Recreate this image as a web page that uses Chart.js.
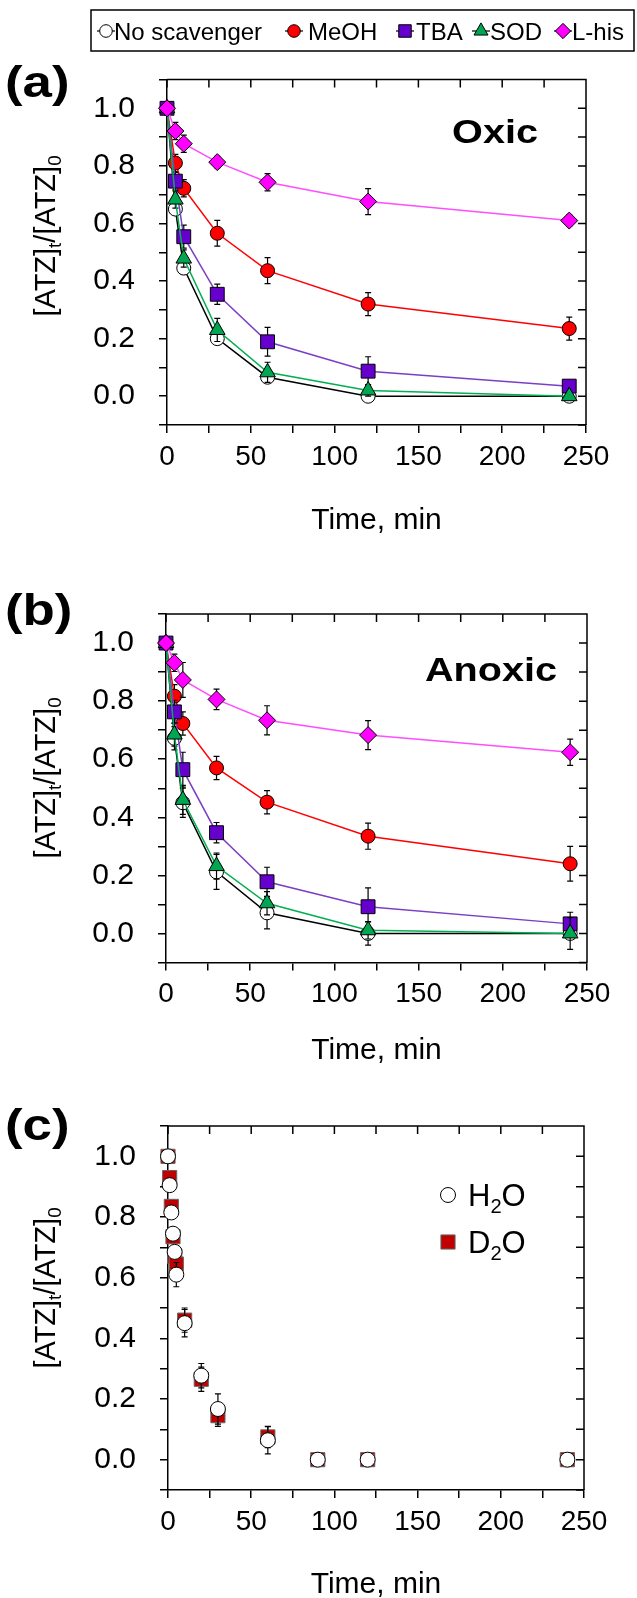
<!DOCTYPE html>
<html>
<head>
<meta charset="utf-8">
<title>ATZ decay with scavengers</title>
<script src="https://cdn.jsdelivr.net/npm/chart.js@4.4.1/dist/chart.umd.min.js"></script>
<style>
  html, body { margin: 0; padding: 0; background: #fff; }
  body { width: 637px; height: 1598px; position: relative; overflow: hidden; }
  canvas { position: absolute; left: 0; }
</style>
</head>
<body>
<canvas id="chartA" width="637" height="540" style="top:0px"></canvas>
<canvas id="chartB" width="637" height="525" style="top:540px"></canvas>
<canvas id="chartC" width="637" height="533" style="top:1065px"></canvas>
<script>
const FONT = "'Liberation Sans', Arial, sans-serif";

// sampling times (min) for panels a and b
const times = [0, 5, 10, 30, 60, 120, 240];

// (a) oxic
const oxicNone = [1.0, 0.65, 0.445, 0.2, 0.066, 0.0, 0.0];
const oxicMeOH = [1.0, 0.81, 0.722, 0.566, 0.436, 0.32, 0.235];
const oxicTBA = [1.0, 0.747, 0.554, 0.354, 0.189, 0.087, 0.035];
const oxicSOD = [1.0, 0.683, 0.478, 0.23, 0.083, 0.02, 0.0];
const oxicLhis = [1.0, 0.921, 0.877, 0.813, 0.743, 0.676, 0.61];
const oxicNoneErr = [0.01, 0.02, 0.02, 0.015, 0.015, 0.01, 0.01];
const oxicMeOHErr = [0.01, 0.03, 0.03, 0.045, 0.045, 0.04, 0.04];
const oxicTBAErr = [0.01, 0.03, 0.04, 0.035, 0.05, 0.05, 0.015];
const oxicSODErr = [0.01, 0.03, 0.03, 0.04, 0.035, 0.02, 0.01];
const oxicLhisErr = [0.02, 0.03, 0.03, 0.02, 0.03, 0.045, 0.02];

// (b) anoxic
const anoxNone = [1.0, 0.672, 0.45, 0.212, 0.071, 0.0, 0.0];
const anoxMeOH = [1.0, 0.817, 0.723, 0.57, 0.452, 0.335, 0.24];
const anoxTBA = [1.0, 0.763, 0.564, 0.347, 0.178, 0.092, 0.033];
const anoxSOD = [1.0, 0.685, 0.46, 0.232, 0.104, 0.011, 0.0];
const anoxLhis = [1.0, 0.932, 0.873, 0.806, 0.734, 0.683, 0.624];
const anoxNoneErr = [0.02, 0.04, 0.05, 0.06, 0.055, 0.04, 0.02];
const anoxMeOHErr = [0.02, 0.04, 0.04, 0.04, 0.04, 0.045, 0.06];
const anoxTBAErr = [0.02, 0.04, 0.06, 0.035, 0.05, 0.065, 0.04];
const anoxSODErr = [0.02, 0.04, 0.05, 0.045, 0.04, 0.03, 0.055];
const anoxLhisErr = [0.02, 0.03, 0.06, 0.035, 0.05, 0.05, 0.045];

// (c) solvent isotope effect
const timesC = [0, 1, 2, 3, 4, 5, 10, 20, 30, 60, 90, 120, 240];
const h2o = [1.0, 0.905, 0.815, 0.745, 0.685, 0.61, 0.45, 0.277, 0.167, 0.064, 0.0, 0.0, 0.0];
const d2o = [1.0, 0.93, 0.835, 0.735, 0.67, 0.645, 0.46, 0.265, 0.145, 0.075, 0.0, 0.0, 0.0];
const h2oErr = [0.01, 0.02, 0.02, 0.02, 0.02, 0.04, 0.045, 0.04, 0.05, 0.045, 0.01, 0.01, 0.01];
const d2oErr = [0.01, 0.02, 0.02, 0.02, 0.02, 0.02, 0.04, 0.04, 0.035, 0.035, 0.01, 0.01, 0.01];

const xTicks = [0, 50, 100, 150, 200, 250];
const yTicks = [0.0, 0.2, 0.4, 0.6, 0.8, 1.0];

const seriesLabels = ["No scavenger", "MeOH", "TBA", "SOD", "L-his"];
const seriesStyle = [
  { line: "#000000", fill: "#ffffff", shape: "circle", r: 7 },
  { line: "#ff0000", fill: "#ff0000", shape: "circle", r: 7 },
  { line: "#7b3fc4", fill: "#6600cc", shape: "rect", r: 9.8 },
  { line: "#00b050", fill: "#00a651", shape: "triangle", r: 9 },
  { line: "#ff4dff", fill: "#ff00ff", shape: "rectRot", r: 8.5 },
];

Chart.defaults.color = "#000";
Chart.defaults.font.family = FONT;

const TICK = 8;

function pairs(xs, ys) {
  return xs.map((x, i) => ({ x: x, y: ys[i] }));
}

function kineticSets(values, errors) {
  // first series sits at the back, L-his on top
  return values.map((v, i) => ({
    label: seriesLabels[i],
    data: pairs(times, v),
    errors: errors[i],
    borderColor: seriesStyle[i].line,
    borderWidth: 1.5,
    backgroundColor: seriesStyle[i].fill,
    pointStyle: seriesStyle[i].shape,
    pointRadius: seriesStyle[i].r,
    pointBackgroundColor: seriesStyle[i].fill,
    pointBorderColor: "#000",
    pointBorderWidth: 1,
    showLine: true,
    tension: 0,
    clip: false,
    order: values.length - i,
  }));
}

// draws vertical error bars just before each dataset's own marks
const errorBars = {
  id: "errorBars",
  beforeDatasetDraw(chart, args) {
    const ds = chart.data.datasets[args.index];
    if (!ds.errors) return;
    const ctx = chart.ctx;
    const y = chart.scales.y;
    ctx.save();
    ctx.strokeStyle = "#000";
    ctx.lineWidth = 1.2;
    args.meta.data.forEach((pt, i) => {
      const e = ds.errors[i];
      if (!e) return;
      const v = ds.data[i].y;
      const top = y.getPixelForValue(v + e);
      const bot = y.getPixelForValue(v - e);
      ctx.beginPath();
      ctx.moveTo(pt.x, top);
      ctx.lineTo(pt.x, bot);
      ctx.moveTo(pt.x - 3, top);
      ctx.lineTo(pt.x + 3, top);
      ctx.moveTo(pt.x - 3, bot);
      ctx.lineTo(pt.x + 3, bot);
      ctx.stroke();
    });
    ctx.restore();
  },
};

// closes the box: top and right edges with inward ticks
const frame = {
  id: "frame",
  beforeDatasetsDraw(chart) {
    const { ctx, chartArea: a } = chart;
    const x = chart.scales.x;
    const y = chart.scales.y;
    ctx.save();
    ctx.strokeStyle = "#000";
    ctx.lineWidth = 1.5;
    ctx.beginPath();
    ctx.moveTo(a.left, a.top);
    ctx.lineTo(a.right, a.top);
    ctx.lineTo(a.right, a.bottom);
    x.ticks.forEach((t) => {
      const px = x.getPixelForValue(t.value);
      ctx.moveTo(px, a.top);
      ctx.lineTo(px, a.top + TICK);
    });
    y.ticks.forEach((t) => {
      const py = y.getPixelForValue(t.value);
      ctx.moveTo(a.right, py);
      ctx.lineTo(a.right - TICK, py);
    });
    ctx.stroke();
    ctx.restore();
  },
};

function drawMarker(ctx, shape, cx, cy, r) {
  ctx.beginPath();
  if (shape === "circle") {
    ctx.arc(cx, cy, r, 0, Math.PI * 2);
  } else if (shape === "rect") {
    const s = r * Math.SQRT1_2;
    ctx.rect(cx - s, cy - s, 2 * s, 2 * s);
  } else if (shape === "triangle") {
    ctx.moveTo(cx, cy - r);
    ctx.lineTo(cx + r * 0.866, cy + r * 0.5);
    ctx.lineTo(cx - r * 0.866, cy + r * 0.5);
    ctx.closePath();
  } else if (shape === "rectRot") {
    ctx.moveTo(cx, cy - r);
    ctx.lineTo(cx + r, cy);
    ctx.lineTo(cx, cy + r);
    ctx.lineTo(cx - r, cy);
    ctx.closePath();
  }
  ctx.fill();
  ctx.stroke();
}

// text with subscripted pieces: parts = [[text, isSub], ...]
function subText(ctx, parts, size, x, y, align) {
  const widths = parts.map(([t, sub]) => {
    ctx.font = (sub ? size * 0.65 : size) + "px " + FONT;
    return ctx.measureText(t).width;
  });
  const total = widths.reduce((s, w) => s + w, 0);
  let cx = align === "center" ? x - total / 2 : x;
  ctx.textAlign = "left";
  ctx.textBaseline = "alphabetic";
  parts.forEach(([t, sub], i) => {
    ctx.font = (sub ? size * 0.65 : size) + "px " + FONT;
    ctx.fillText(t, cx, sub ? y + size * 0.22 : y);
    cx += widths[i];
  });
}

// bold heading text, a little wider than the plain face
function wideText(ctx, text, size, x, y, align) {
  ctx.save();
  ctx.translate(x, y);
  ctx.scale(1.2, 1);
  ctx.font = "bold " + size + "px " + FONT;
  ctx.textAlign = align;
  ctx.textBaseline = "alphabetic";
  ctx.fillText(text, 0, 0);
  ctx.restore();
}

function yTitle(ctx, cx, cy) {
  ctx.save();
  ctx.translate(cx, cy);
  ctx.rotate(-Math.PI / 2);
  ctx.fillStyle = "#000";
  subText(ctx, [["[ATZ]", false], ["t", true], ["/[ATZ]", false], ["0", true]], 29, 0, 10, "center");
  ctx.restore();
}

function decor(opts) {
  return {
    id: "decor",
    afterDraw(chart) {
      const ctx = chart.ctx;
      const a = chart.chartArea;
      ctx.save();
      ctx.fillStyle = "#000";
      wideText(ctx, opts.letter, 44, 5, opts.letterY, "left");
      if (opts.tag) wideText(ctx, opts.tag, 33, opts.tagX, opts.tagY, "center");
      ctx.textAlign = "center";
      ctx.textBaseline = "alphabetic";
      ctx.font = "30px " + FONT;
      ctx.fillText("Time, min", (a.left + a.right) / 2, opts.xTitleY);
      yTitle(ctx, 45, opts.yTitleY);
      if (opts.extra) opts.extra(ctx, chart);
      ctx.restore();
    },
  };
}

// legend box shared by panels a and b
function scavengerLegend(ctx) {
  const markX = [106, 294, 405, 481, 563];
  const textX = [114, 308, 416, 490, 572];
  const midY = 31;
  ctx.lineWidth = 1.5;
  ctx.strokeStyle = "#000";
  ctx.strokeRect(91, 10, 543, 41);
  ctx.font = "24px " + FONT;
  ctx.textAlign = "left";
  ctx.textBaseline = "alphabetic";
  seriesLabels.forEach((lab, i) => {
    const st = seriesStyle[i];
    ctx.strokeStyle = "#000";
    ctx.lineWidth = 1.2;
    ctx.beginPath();
    ctx.moveTo(markX[i] - 9, midY);
    ctx.lineTo(markX[i] + 9, midY);
    ctx.stroke();
    ctx.fillStyle = st.fill;
    ctx.lineWidth = 1;
    drawMarker(ctx, st.shape, markX[i], midY, st.r * 0.9);
    ctx.fillStyle = "#000";
    ctx.fillText(lab, textX[i], midY + 8.5);
  });
}

function solventLegend(ctx) {
  ctx.lineWidth = 1;
  ctx.strokeStyle = "#000";
  ctx.fillStyle = "#fff";
  drawMarker(ctx, "circle", 448, 130, 7.5);
  ctx.fillStyle = "#c00000";
  ctx.strokeStyle = "#666";
  drawMarker(ctx, "rect", 448, 177, 10);
  ctx.fillStyle = "#000";
  subText(ctx, [["H", false], ["2", true], ["O", false]], 31, 468, 141, "left");
  subText(ctx, [["D", false], ["2", true], ["O", false]], 31, 468, 188, "left");
}

function makePanel(id, datasets, box, deco) {
  const canvas = document.getElementById(id);
  const H = canvas.height;
  return new Chart(canvas, {
    type: "scatter",
    data: { datasets: datasets },
    options: {
      responsive: false,
      animation: false,
      events: [],
      layout: { padding: { top: box.top, right: 637 - box.right, left: 0, bottom: 0 } },
      plugins: { legend: { display: false }, tooltip: { enabled: false } },
      scales: {
        x: {
          type: "linear",
          min: 0,
          max: 250,
          afterFit: (s) => { s.height = H - box.bottom; },
          ticks: {
            stepSize: 25,
            autoSkip: false,
            maxRotation: 0,
            padding: 7,
            font: { size: 28 },
            callback: (v) => (xTicks.includes(v) ? String(v) : ""),
          },
          grid: { drawOnChartArea: false, tickLength: TICK, color: "#000", lineWidth: 1.5 },
          border: { color: "#000", width: 1.5 },
        },
        y: {
          type: "linear",
          min: -0.1,
          max: 1.1,
          afterFit: (s) => { s.width = box.left; },
          ticks: {
            stepSize: 0.1,
            autoSkip: false,
            padding: 24,
            font: { size: 30 },
            callback: (v) => {
              const r = Math.round(v * 10) / 10;
              return yTicks.some((t) => Math.abs(t - r) < 1e-6) ? r.toFixed(1) : "";
            },
          },
          grid: { drawOnChartArea: false, tickLength: TICK, color: "#000", lineWidth: 1.5 },
          border: { color: "#000", width: 1.5 },
        },
      },
    },
    plugins: [frame, errorBars, decor(deco)],
  });
}

makePanel(
  "chartA",
  kineticSets(
    [oxicNone, oxicMeOH, oxicTBA, oxicSOD, oxicLhis],
    [oxicNoneErr, oxicMeOHErr, oxicTBAErr, oxicSODErr, oxicLhisErr]
  ),
  { left: 167, right: 586, top: 79.5, bottom: 425 },
  { letter: "(a)", letterY: 97, tag: "Oxic", tagX: 495, tagY: 143, xTitleY: 529, yTitleY: 236, extra: scavengerLegend }
);

makePanel(
  "chartB",
  kineticSets(
    [anoxNone, anoxMeOH, anoxTBA, anoxSOD, anoxLhis],
    [anoxNoneErr, anoxMeOHErr, anoxTBAErr, anoxSODErr, anoxLhisErr]
  ),
  { left: 166, right: 587, top: 74, bottom: 422.5 },
  { letter: "(b)", letterY: 85, tag: "Anoxic", tagX: 491, tagY: 141, xTitleY: 519, yTitleY: 238 }
);

makePanel(
  "chartC",
  [
    {
      label: "H2O",
      data: pairs(timesC, h2o),
      errors: h2oErr,
      pointStyle: "circle",
      pointRadius: 7.5,
      pointBackgroundColor: "#fff",
      pointBorderColor: "#000",
      pointBorderWidth: 1,
      showLine: false,
      clip: false,
      order: 1,
    },
    {
      label: "D2O",
      data: pairs(timesC, d2o),
      errors: d2oErr,
      pointStyle: "rect",
      pointRadius: 10,
      pointBackgroundColor: "#c00000",
      pointBorderColor: "#666",
      pointBorderWidth: 1,
      showLine: false,
      clip: false,
      order: 2,
    },
  ],
  { left: 168, right: 584, top: 61, bottom: 425 },
  { letter: "(c)", letterY: 75, xTitleY: 528, yTitleY: 223, extra: solventLegend }
);
</script>
</body>
</html>
